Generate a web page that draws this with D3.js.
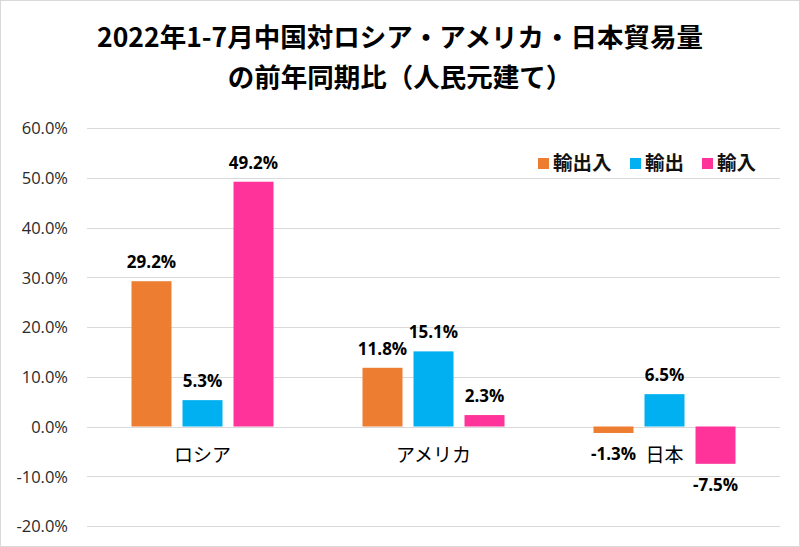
<!DOCTYPE html>
<html><head><meta charset="utf-8">
<script src="https://cdn.jsdelivr.net/npm/d3@7"></script>
<style>body{margin:0;background:#fff}svg{display:block}</style>
</head><body>
<svg id="c" width="800" height="547"></svg>
<script>
const categories = ["ロシア", "アメリカ", "日本"];
const seriesNames = ["輸出入", "輸出", "輸入"];
const totalTrade = [29.2, 11.8, -1.3];
const exportsV = [5.3, 15.1, 6.5];
const importsV = [49.2, 2.3, -7.5];
const yTicks = [-20, -10, 0, 10, 20, 30, 40, 50, 60];
const colors = ["#ED7D31", "#00B0F0", "#FF3399"];
const titleLines = ["2022年1-7月中国対ロシア・アメリカ・日本貿易量", "の前年同期比（人民元建て）"];

const series = [totalTrade, exportsV, importsV];
const svg = d3.select("#c");
const font = "'Noto Sans CJK JP', 'Noto Sans', sans-serif";
const numFont = "'Open Sans', 'Noto Sans', sans-serif";

svg.append("rect").attr("x",0.5).attr("y",0.5).attr("width",799).attr("height",546)
  .attr("fill","#fff").attr("stroke","#d9d9d9");

const L = 87, R = 780;
const y = d3.scaleLinear().domain([-20, 60]).range([526, 128]);
const x0 = d3.scaleBand().domain(categories).range([L, R]).paddingInner(0).paddingOuter(0);
const x1 = d3.scaleBand().domain(seriesNames).range([0, 142]).paddingInner(0.216).paddingOuter(0);

// gridlines
svg.append("g").selectAll("line").data(yTicks).join("line")
  .attr("x1", L).attr("x2", R)
  .attr("y1", d => Math.round(y(d)) + 0.5).attr("y2", d => Math.round(y(d)) + 0.5)
  .attr("stroke", "#d9d9d9").attr("stroke-width", 1);

// y axis
const yAxis = d3.axisLeft(y).tickValues(yTicks).tickSize(0).tickPadding(0)
  .tickFormat(d => d.toFixed(1) + "%");
const ga = svg.append("g").attr("transform", "translate(68,0)").call(yAxis);
ga.select(".domain").remove();
ga.selectAll("text").attr("font-family", numFont).attr("font-size", 16.5).attr("fill", "#2a2a2a").attr("dy","0.35em");

// bars
const groups = svg.append("g").selectAll("g").data(categories).join("g")
  .attr("transform", c => `translate(${x0(c) + x0.bandwidth()/2 - 71},0)`);
groups.each(function(c, ci) {
  const g = d3.select(this);
  seriesNames.forEach((s, si) => {
    const v = series[si][ci];
    g.append("rect")
      .attr("x", x1(s)).attr("width", x1.bandwidth())
      .attr("y", y(Math.max(0, v))).attr("height", Math.abs(y(v) - y(0)))
      .attr("fill", colors[si]);
    g.append("text")
      .attr("x", x1(s) + x1.bandwidth()/2)
      .attr("y", v >= 0 ? y(v) - 13 : y(v) + 27)
      .attr("text-anchor", "middle")
      .attr("font-family", numFont).attr("font-weight", "bold").attr("font-size", 17)
      .attr("fill", "#000")
      .text(v.toFixed(1) + "%");
  });
});

// category labels
svg.append("g").selectAll("text").data(categories).join("text")
  .attr("x", c => x0(c) + x0.bandwidth()/2).attr("y", 462)
  .attr("text-anchor", "middle").attr("font-family", font).attr("font-size", 19)
  .attr("fill", "#000").text(c => c);

// legend
const legX = [538, 630, 702];
const lg = svg.append("g");
seriesNames.forEach((s, i) => {
  lg.append("rect").attr("x", legX[i]).attr("y", 158).attr("width", 11).attr("height", 11).attr("fill", colors[i]);
  lg.append("text").attr("x", legX[i] + 15).attr("y", 170).attr("font-family", font)
    .attr("font-size", 19.5).attr("font-weight", 700).attr("fill", "#111").text(s);
});

// title
svg.append("g").selectAll("text").data(titleLines).join("text")
  .attr("x", 400).attr("y", (d, i) => 47 + i * 40)
  .attr("text-anchor", "middle").attr("font-family", font).attr("font-weight", "bold")
  .attr("font-size", 26.5).attr("fill", "#000").text(d => d);
</script>
</body></html>
